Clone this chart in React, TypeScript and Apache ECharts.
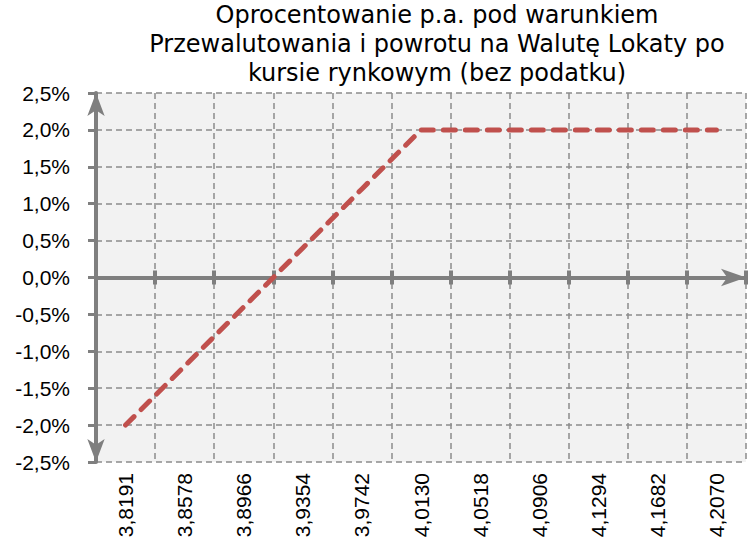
import React, { useEffect, useRef } from "react";
import * as echarts from "echarts";

const categories = ["3,8191", "3,8578", "3,8966", "3,9354", "3,9742", "4,0130", "4,0518", "4,0906", "4,1294", "4,1682", "4,2070"];
const rateValues = [-2.0, -1.2, -0.4, 0.4, 1.2, 2.0, 2.0, 2.0, 2.0, 2.0, 2.0];
const yMin = -2.5;
const yMax = 2.5;
const yStep = 0.5;
const titleText = "Oprocentowanie p.a. pod warunkiem\nPrzewalutowania i powrotu na Walutę Lokaty po\nkursie rynkowym (bez podatku)";

const AXIS = "#7f7f7f";
const GRIDC = "#8c8c8c";
const LABEL_FONT = "Liberation Sans";

export default function App() {
  const ref = useRef<HTMLDivElement>(null);
  useEffect(() => {
    if (!ref.current) return;
    const chart = echarts.init(ref.current, undefined, { renderer: "svg" });
    const zeroAxisBase = {
      type: "category",
      data: categories,
      boundaryGap: true,
      axisLabel: { show: false },
      splitLine: { show: false },
      axisTick: { show: true, length: 7, lineStyle: { color: AXIS, width: 4 } },
    };
    chart.setOption({
      animation: false,
      backgroundColor: "#ffffff",
      graphic: [
        {
          type: "text",
          x: 437,
          y: 0,
          style: {
            text: titleText,
            fontSize: 24,
            fontFamily: "DejaVu Sans",
            align: "center",
            verticalAlign: "top",
            lineHeight: 29,
            fill: "#000000",
          },
        },
      ],
      grid: {
        left: 96,
        right: 8,
        top: 93,
        bottom: 85,
        show: true,
        backgroundColor: "#f2f2f2",
        borderWidth: 0,
        containLabel: false,
        outerBoundsMode: "none",
      },
      xAxis: [
        {
          type: "category",
          data: categories,
          position: "bottom",
          boundaryGap: true,
          axisLine: { show: false, onZero: false },
          axisTick: { show: false },
          axisLabel: {
            rotate: 90,
            margin: 11,
            fontSize: 21,
            fontFamily: LABEL_FONT,
            color: "#000000",
            interval: 0,
          },
          splitLine: { show: true, lineStyle: { type: [6, 4], color: GRIDC, width: 1.5 } },
        },
        {
          ...zeroAxisBase,
          position: "top",
          axisLine: {
            show: true,
            onZero: true,
            onZeroAxisIndex: 0,
            symbol: ["none", "arrow"],
            symbolSize: [13, 25],
            symbolOffset: [0, 0],
            lineStyle: { color: AXIS, width: 4 },
          },
        },
        {
          ...zeroAxisBase,
          position: "bottom",
          axisLine: {
            show: true,
            onZero: true,
            onZeroAxisIndex: 0,
            lineStyle: { color: AXIS, width: 4 },
          },
        },
      ],
      yAxis: {
        type: "value",
        min: yMin,
        max: yMax,
        interval: yStep,
        axisLine: {
          show: true,
          onZero: false,
          symbol: ["arrow", "arrow"],
          symbolSize: [13, 23],
          symbolOffset: [0, 0],
          lineStyle: { color: AXIS, width: 4 },
        },
        axisTick: { show: true, length: 8, lineStyle: { color: AXIS, width: 3 } },
        axisLabel: {
          margin: 26,
          fontSize: 21,
          fontFamily: LABEL_FONT,
          color: "#000000",
          formatter: (v: number) => v.toFixed(1).replace(".", ",") + "%",
        },
        splitLine: { show: true, lineStyle: { type: [6, 4], color: GRIDC, width: 1.5 } },
      },
      series: [
        {
          type: "line",
          xAxisIndex: 0,
          yAxisIndex: 0,
          data: rateValues,
          symbol: "none",
          z: 5,
          lineStyle: { color: "#c0504d", width: 5, type: [12, 10], cap: "round" },
        },
      ],
    });
    return () => chart.dispose();
  }, []);
  return (
    <div
      ref={ref}
      style={{ position: "fixed", left: 0, top: 0, width: 754, height: 547 }}
    />
  );
}
